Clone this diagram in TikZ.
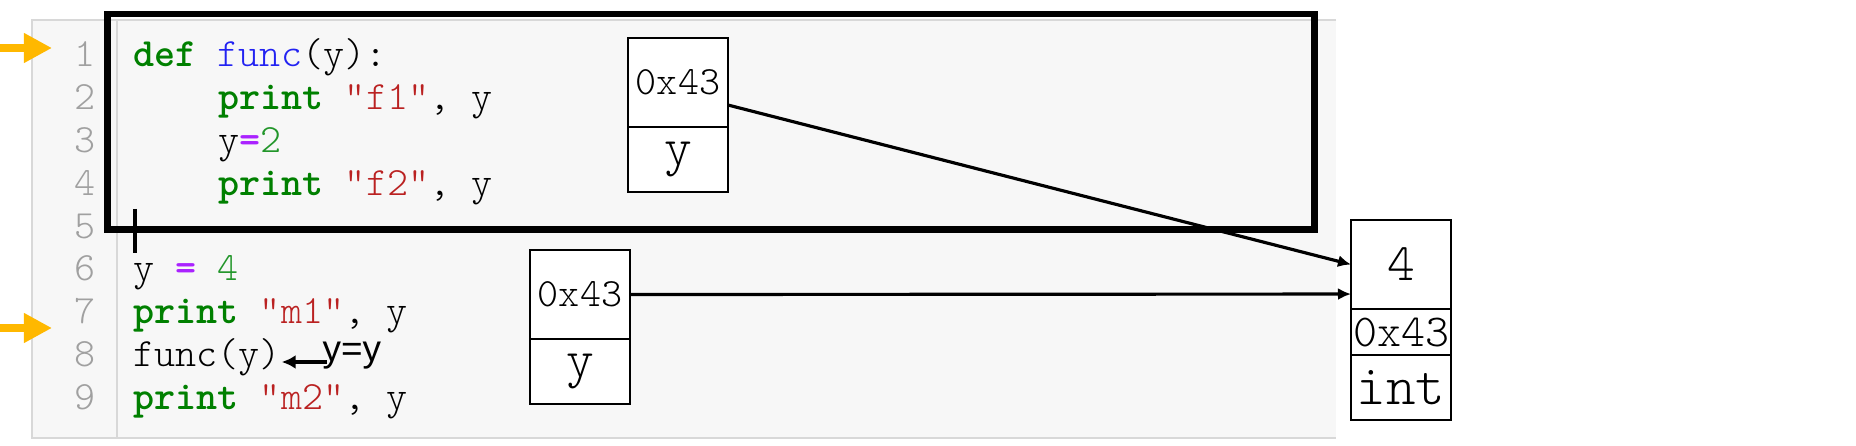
\documentclass[tikz,border=0pt]{standalone}
\usepackage{fontspec}
\usetikzlibrary{arrows.meta, positioning}
\newfontfamily\labelfont{Liberation Sans}
\newcommand{\codefont}{\ttfamily\fontseries{l}}
\definecolor{kwgreen}{HTML}{008000}
\definecolor{fngblue}{HTML}{2222F2}
\definecolor{strred}{HTML}{BA2121}
\definecolor{oppurple}{HTML}{AA22FF}
\definecolor{numgreen}{HTML}{22962A}
\definecolor{linegray}{HTML}{A0A0A0}
\definecolor{panelgray}{HTML}{F7F7F7}
\definecolor{bordergray}{HTML}{D8D8D8}
\definecolor{curgold}{HTML}{FFB800}
\newcommand{\kw}[1]{\textcolor{kwgreen}{\bfseries #1}}
\newcommand{\pyfn}[1]{\textcolor{fngblue}{#1}}
\newcommand{\pystr}[1]{\textcolor{strred}{#1}}
\newcommand{\pyop}[1]{\textcolor{oppurple}{\bfseries #1}}
\newcommand{\pynum}[1]{\textcolor{numgreen}{#1}}
\newcommand{\dq}{\char"22\relax}
\tikzset{
    code/.style={anchor=base west, inner sep=0pt, font=\codefont\fontsize{11.4}{13}\selectfont},
    lineno/.style={anchor=base, inner sep=0pt, text=linegray, font=\codefont\fontsize{11.4}{13}\selectfont},
    cell/.style={draw, line width=0.6pt, fill=white, minimum width=1cm, inner sep=0pt, outer sep=0pt, font=\codefont\fontsize{11.4}{13}\selectfont},
    bigcell/.style={cell, font=\codefont\fontsize{15}{17}\selectfont},
    ptr/.style={-{Latex[length=0.13cm,width=0.12cm]}, line width=0.9pt},
    callarrow/.style={-{Latex[length=0.14cm,width=0.14cm]}, line width=0.9pt},
    curarrow/.style={-{Triangle[length=0.28cm,width=0.28cm]}, line width=0.085cm, curgold},
    framebox/.style={draw, line width=0.065cm, inner sep=0pt, outer sep=0pt}
}
\frenchspacing
\begin{document}
\begin{tikzpicture}[x=0.01cm, y=-0.01cm]
    \useasboundingbox (0,0) rectangle (1856,446);
    \fill[panelgray] (32,20) rectangle (1336,438);
    \draw[bordergray] (1336,20) -- (32,20) -- (32,438) -- (1336,438);
    \draw[bordergray] (117,20) -- (117,438);

    \foreach \i in {1,...,9}
        \node[lineno] (n\i) at (85,{67+(\i-1)*42.8}) {\i};

    \node[code] (l1) at (133,67) {\kw{def} \pyfn{func}(y):};
    \node[code] (l2) at (218,109.8) {\kw{print} \pystr{\dq f1\dq}, y};
    \node[code] (l3) at (218,152.6) {y\pyop{=}\pynum{2}};
    \node[code] (l4) at (218,195.4) {\kw{print} \pystr{\dq f2\dq}, y};
    \node[code] (l6) at (133,281) {y \pyop{=} \pynum{4}};
    \node[code] (l7) at (133,323.8) {\kw{print} \pystr{\dq m1\dq}, y};
    \node[code] (l8) at (133,366.6) {func(y)};
    \node[code] (l9) at (133,409.4) {\kw{print} \pystr{\dq m2\dq}, y};
    \draw[line width=0.04cm] (135,209) -- (135,253);

    \coordinate (cur1) at (0,48);
    \coordinate (cur1tip) at (52,48);
    \coordinate (cur7) at (0,328);
    \coordinate (cur7tip) at (52,328);
    \draw[curarrow] (cur1) -- (cur1tip);
    \draw[curarrow] (cur7) -- (cur7tip);

    \node[framebox, minimum width=12.065cm, minimum height=2.155cm, anchor=north west] (frame) at (107.5,14) {};

    \node[cell, minimum height=0.89cm, anchor=north west] (fa) at (628,38) {0x43};
    \node[bigcell, minimum height=0.65cm, below=0pt of fa] (fy) {y};
    \node[cell, minimum height=0.89cm, anchor=north west] (ba) at (530,250) {0x43};
    \node[bigcell, minimum height=0.65cm, below=0pt of ba] (by) {y};

    \node[bigcell, minimum height=0.89cm, anchor=north west] (ov) at (1351,220) {4};
    \node[cell, font=\codefont\fontsize{13}{15}\selectfont, minimum height=0.46cm, below=0pt of ov] (oa) {0x43};
    \node[bigcell, font=\codefont\fontsize{16}{18}\selectfont, minimum height=0.65cm, below=0pt of oa] (ot) {int};

    \draw[ptr] ([yshift=-0.225cm]fa.east) -- (ov.west);
    \draw[ptr] (ba.east) -- ([yshift=-0.295cm]ov.west);

    \node[anchor=base west, inner sep=0pt, font=\labelfont\fontsize{10.5}{12}\selectfont] (yy) at (322,362) {y=y};
    \draw[callarrow] ([xshift=0.05cm]yy.base west) -- (yy.base west -| l8.east);
\end{tikzpicture}
\end{document}
